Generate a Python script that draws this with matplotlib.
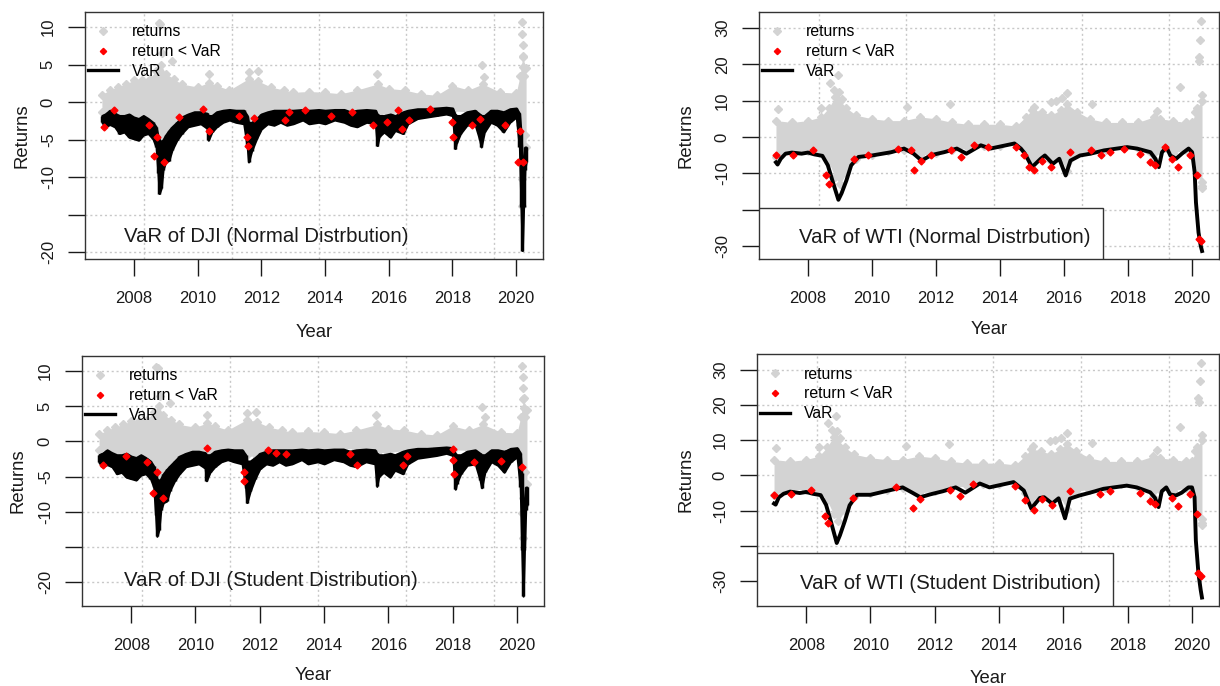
import matplotlib.pyplot as plt
from matplotlib.lines import Line2D
from matplotlib.patches import Rectangle

plt.rcParams['font.family'] = ['Liberation Sans', 'DejaVu Sans']

# ---- DJI daily returns (%): envelope of the grey cloud, decimal years
dji_t = [2007.0, 2007.25, 2007.5, 2007.75, 2008.0, 2008.25, 2008.5, 2008.7, 2008.85, 2009.0,
         2009.25, 2009.5, 2010.0, 2010.35, 2010.6, 2011.0, 2011.6, 2011.9, 2012.3, 2012.7,
         2013.0, 2013.5, 2014.0, 2014.5, 2015.0, 2015.65, 2016.0, 2016.5, 2017.0, 2017.5,
         2018.0, 2018.5, 2018.95, 2019.5, 2020.0, 2020.12, 2020.2, 2020.31]
dji_hi = [1.0, 1.6, 2.0, 2.4, 2.9, 2.9, 3.1, 4.2, 5.0, 3.8,
          3.1, 2.4, 2.0, 2.6, 2.2, 1.6, 3.1, 2.8, 2.0, 1.6,
          1.3, 1.4, 1.3, 1.1, 1.6, 2.4, 1.8, 1.6, 1.1, 0.9,
          2.2, 1.6, 2.4, 1.3, 1.2, 3.5, 6.0, 4.5]
dji_lo = [-1.3, -1.1, -1.5, -1.8, -2.0, -2.2, -2.2, -3.5, -5.5, -4.5,
          -3.3, -2.0, -1.3, -1.5, -1.3, -1.0, -2.0, -2.2, -1.3, -1.1,
          -1.1, -1.1, -1.1, -1.0, -1.1, -1.6, -1.6, -1.3, -0.9, -0.8,
          -1.2, -1.3, -1.8, -1.1, -0.8, -3.0, -8.0, -6.0]
dji_out_t = [2008.78, 2008.83, 2008.9, 2009.2, 2010.35, 2011.6, 2011.89, 2015.63, 2018.92, 2019.0,
             2020.17, 2020.19, 2020.2, 2020.21, 2020.22, 2020.24, 2020.17, 2020.18, 2020.26]
dji_out_v = [10.6, 10.4, 6.5, 5.5, 3.8, 4.0, 4.2, 3.8, 4.9, 3.4,
             10.7, 9.1, 7.6, 6.2, 4.7, 3.5, -10.2, -13.8, -4.4]

# ---- DJI VaR: upper / lower edge of the black band
dji_var_t = [2007.00, 2007.10, 2007.25, 2007.40, 2007.55, 2007.70, 2007.85, 2008.00, 2008.15, 2008.30,
             2008.45, 2008.60, 2008.70, 2008.76, 2008.80, 2008.86, 2008.92, 2009.00, 2009.10, 2009.20,
             2009.35, 2009.50, 2009.70, 2009.90, 2010.10, 2010.30, 2010.34, 2010.45, 2010.60, 2010.80,
             2011.00, 2011.20, 2011.45, 2011.56, 2011.60, 2011.70, 2011.85, 2012.00, 2012.20, 2012.40,
             2012.60, 2012.80, 2013.00, 2013.30, 2013.50, 2013.80, 2014.00, 2014.30, 2014.60, 2014.80,
             2015.00, 2015.30, 2015.58, 2015.64, 2015.70, 2015.85, 2016.05, 2016.20, 2016.45, 2016.60,
             2016.90, 2017.20, 2017.50, 2017.80, 2018.00, 2018.08, 2018.12, 2018.25, 2018.45, 2018.70,
             2018.85, 2018.90, 2019.00, 2019.20, 2019.40, 2019.60, 2019.80, 2020.00, 2020.10, 2020.15,
             2020.19, 2020.23, 2020.27, 2020.31]
dji_n_top = [-1.8, -1.6, -1.1, -1.5, -1.8, -1.8, -1.6, -2.0, -2.2, -1.8,
             -2.2, -2.7, -3.3, -4.5, -5.0, -5.3, -5.0, -4.4, -3.8, -3.3,
             -2.7, -2.0, -1.6, -1.3, -1.3, -1.5, -1.8, -1.8, -1.3, -1.1,
             -1.0, -1.1, -1.1, -1.8, -2.7, -2.7, -2.2, -1.6, -1.3, -1.1,
             -1.1, -1.1, -1.1, -1.0, -1.1, -1.0, -1.1, -1.0, -1.0, -1.3,
             -1.1, -1.0, -1.1, -1.6, -1.8, -1.8, -1.6, -1.8, -1.3, -1.1,
             -0.9, -0.9, -0.8, -0.7, -0.8, -1.6, -1.8, -1.8, -1.3, -1.1,
             -1.6, -1.8, -1.8, -1.1, -1.1, -1.3, -0.9, -0.8, -1.5, -4.0,
             -8.0, -8.0, -6.0, -6.0]
dji_n_bot = [-2.7, -3.3, -3.0, -3.3, -4.2, -4.0, -4.7, -4.9, -5.1, -4.4,
             -4.2, -4.9, -6.0, -9.5, -12.2, -11.5, -9.0, -8.0, -7.8, -6.4,
             -5.1, -4.2, -3.3, -3.1, -2.9, -3.5, -5.1, -4.0, -3.3, -2.7,
             -2.4, -2.7, -2.9, -6.0, -8.0, -6.5, -4.9, -3.6, -2.9, -3.1,
             -2.7, -3.1, -2.9, -2.4, -2.9, -2.7, -2.9, -2.4, -2.7, -3.1,
             -3.3, -2.7, -2.9, -5.8, -4.6, -4.0, -4.7, -3.8, -4.2, -2.9,
             -2.2, -2.0, -1.8, -1.6, -1.8, -6.2, -5.5, -4.2, -3.1, -2.9,
             -5.0, -6.0, -4.0, -2.7, -3.1, -4.0, -2.7, -2.0, -6.0, -14.0,
             -19.8, -14.0, -9.0, -8.0]
dji_s_top = [-1.9, -1.7, -1.2, -1.6, -1.9, -1.9, -1.7, -2.1, -2.3, -1.9,
             -2.3, -2.8, -3.5, -4.8, -5.3, -5.6, -5.3, -4.6, -4.0, -3.5,
             -2.8, -2.1, -1.7, -1.4, -1.4, -1.6, -1.9, -1.9, -1.4, -1.2,
             -1.1, -1.2, -1.2, -1.9, -2.8, -2.8, -2.3, -1.7, -1.4, -1.2,
             -1.2, -1.2, -1.2, -1.1, -1.2, -1.1, -1.2, -1.1, -1.1, -1.4,
             -1.2, -1.1, -1.2, -1.7, -1.9, -1.9, -1.7, -1.9, -1.4, -1.2,
             -1.0, -1.0, -0.9, -0.8, -0.9, -1.7, -1.9, -1.9, -1.4, -1.2,
             -1.7, -1.9, -1.9, -1.2, -1.2, -1.4, -1.0, -0.9, -1.6, -4.5,
             -9.0, -9.0, -6.5, -6.5]
dji_s_bot = [-3.0, -3.6, -3.3, -3.6, -4.6, -4.4, -5.1, -5.3, -5.5, -4.8,
             -4.6, -5.3, -6.5, -10.5, -13.5, -12.6, -9.8, -8.7, -8.5, -7.0,
             -5.6, -4.6, -3.6, -3.4, -3.2, -3.8, -5.6, -4.4, -3.6, -2.9,
             -2.6, -2.9, -3.2, -6.6, -8.7, -7.1, -5.3, -3.9, -3.2, -3.4,
             -2.9, -3.4, -3.2, -2.6, -3.2, -2.9, -3.2, -2.6, -2.9, -3.4,
             -3.6, -2.9, -3.2, -6.4, -5.0, -4.4, -5.1, -4.1, -4.6, -3.2,
             -2.4, -2.2, -2.0, -1.7, -2.0, -6.8, -6.0, -4.6, -3.4, -3.2,
             -5.5, -6.6, -4.4, -2.9, -3.4, -4.4, -2.9, -2.2, -6.5, -15.5,
             -22.0, -15.5, -9.8, -9.0]

# returns below VaR (red)
dji_n_red_t = [2007.06, 2007.37, 2008.47, 2008.65, 2008.73, 2008.96, 2009.41, 2010.16, 2010.35, 2011.3,
               2011.55, 2011.58, 2011.76, 2012.75, 2012.86, 2013.38, 2014.2, 2014.85, 2015.52, 2015.94,
               2016.3, 2016.41, 2016.62, 2017.3, 2017.98, 2018.03, 2018.6, 2018.87, 2019.65, 2020.07,
               2020.12, 2020.22]
dji_n_red_v = [-3.3, -1.0, -3.1, -7.2, -4.7, -8.0, -2.0, -0.9, -3.8, -1.8,
               -4.7, -5.8, -2.1, -2.4, -1.3, -1.1, -1.8, -1.3, -3.1, -2.7,
               -1.0, -3.6, -2.4, -0.9, -2.7, -4.7, -3.1, -2.2, -3.1, -8.0,
               -3.8, -8.0]
dji_s_red_t = [2007.13, 2007.85, 2008.5, 2008.68, 2008.8, 2008.99, 2010.35, 2011.5, 2011.52, 2012.24,
               2012.5, 2012.8, 2014.8, 2015.03, 2016.45, 2016.57, 2018.0, 2018.02, 2018.03, 2018.65,
               2019.5, 2020.17]
dji_s_red_v = [-3.4, -2.1, -3.0, -7.3, -4.4, -8.0, -0.9, -4.4, -5.7, -1.3,
               -1.6, -1.8, -1.8, -3.3, -3.4, -2.1, -1.1, -2.6, -4.7, -3.0,
               -2.8, -3.6]

# ---- WTI daily returns (%)
wti_t = [2007.0, 2007.5, 2008.0, 2008.4, 2008.65, 2008.85, 2009.0, 2009.2, 2009.5, 2010.0,
         2010.5, 2011.0, 2011.5, 2012.0, 2012.5, 2013.0, 2013.5, 2014.0, 2014.5, 2014.8,
         2015.0, 2015.3, 2015.6, 2015.9, 2016.1, 2016.4, 2016.8, 2017.3, 2017.8, 2018.3,
         2018.8, 2019.0, 2019.4, 2019.8, 2020.0, 2020.15, 2020.31]
wti_hi = [4.5, 4.0, 4.5, 5.5, 8.0, 11.0, 10.0, 8.0, 6.0, 5.0,
          4.5, 4.5, 5.5, 5.0, 4.0, 3.5, 3.5, 3.5, 3.0, 5.5,
          7.5, 7.0, 6.0, 7.5, 9.0, 7.0, 5.0, 4.0, 4.0, 4.0,
          5.5, 5.0, 4.5, 4.0, 4.0, 8.0, 10.0]
wti_lo = [-5.5, -4.0, -4.0, -4.5, -7.0, -11.0, -13.0, -10.0, -6.0, -5.0,
          -4.0, -3.5, -5.0, -4.5, -3.5, -3.0, -2.5, -2.5, -2.0, -5.0,
          -7.5, -5.5, -6.5, -6.0, -9.5, -4.5, -4.0, -3.5, -2.5, -3.0,
          -6.0, -4.0, -4.5, -3.5, -4.0, -10.0, -14.0]
wti_out_t = [2007.05, 2008.4, 2008.68, 2008.8, 2008.93, 2008.97, 2009.05, 2011.1, 2012.45, 2015.06,
             2015.58, 2015.75, 2015.94, 2016.1, 2016.88, 2018.9, 2019.63, 2020.1, 2020.2, 2020.22,
             2020.25, 2020.27, 2020.3, 2020.31, 2020.31]
wti_out_v = [7.7, 8.0, 14.8, 13.0, 17.0, 12.5, 10.5, 8.3, 9.0, 8.3,
             9.7, 10.0, 10.6, 12.0, 9.2, 7.1, 13.8, 6.9, 22.0, 21.0,
             26.8, 32.0, 11.5, -12.5, -13.5]

# ---- WTI VaR lines
wti_var_t = [2007.0, 2007.05, 2007.15, 2007.3, 2007.5, 2007.8, 2008.0, 2008.2, 2008.45, 2008.62,
             2008.78, 2008.95, 2009.05, 2009.2, 2009.35, 2009.58, 2010.0, 2010.6, 2011.0, 2011.3,
             2011.55, 2011.85, 2012.25, 2012.65, 2012.95, 2013.4, 2013.7, 2014.45, 2014.65, 2014.77,
             2015.0, 2015.27, 2015.4, 2015.65, 2015.85, 2016.05, 2016.2, 2016.5, 2016.83, 2017.25,
             2017.97, 2018.28, 2018.7, 2018.85, 2018.96, 2019.06, 2019.2, 2019.32, 2019.5, 2019.68,
             2019.89, 2020.0, 2020.08, 2020.12, 2020.2, 2020.27, 2020.31]
wti_n_var = [-7.0, -7.6, -6.0, -4.6, -4.3, -4.6, -4.3, -4.8, -5.2, -7.8,
             -12.5, -17.3, -15.5, -12.0, -7.8, -5.5, -5.1, -4.2, -3.2, -4.6,
             -6.5, -5.0, -4.2, -3.2, -4.6, -2.3, -3.2, -1.8, -3.2, -4.5,
             -8.3, -6.0, -5.1, -7.4, -6.0, -10.6, -6.5, -5.1, -4.6, -3.7,
             -2.8, -3.2, -4.2, -6.0, -8.3, -4.2, -2.8, -5.1, -6.0, -4.6,
             -3.2, -4.2, -9.7, -18.0, -26.3, -30.0, -31.4]
wti_s_var = [-8.0, -8.3, -6.2, -5.2, -4.6, -5.0, -4.7, -5.2, -5.6, -8.4,
             -13.5, -19.2, -17.0, -13.0, -8.5, -5.5, -5.5, -4.2, -3.4, -4.9,
             -6.2, -5.4, -4.5, -3.4, -4.9, -2.3, -3.4, -1.9, -3.4, -4.3,
             -9.4, -6.4, -6.2, -8.0, -6.5, -12.2, -6.6, -5.7, -4.9, -3.8,
             -2.9, -3.4, -4.8, -6.4, -9.0, -4.5, -3.4, -5.4, -5.7, -4.9,
             -3.4, -3.4, -6.2, -18.5, -27.8, -32.5, -34.7]

wti_n_red_t = [2007.01, 2007.53, 2008.16, 2008.57, 2008.67, 2009.45, 2009.87, 2010.8, 2011.22, 2011.32,
               2011.53, 2011.84, 2012.47, 2012.78, 2013.19, 2013.61, 2014.49, 2014.75, 2014.91, 2015.06,
               2015.32, 2015.58, 2016.2, 2016.83, 2017.14, 2017.45, 2017.87, 2018.38, 2018.7, 2018.85,
               2019.16, 2019.37, 2019.55, 2019.94, 2020.15, 2020.2, 2020.29]
wti_n_red_v = [-5.1, -5.1, -3.7, -10.6, -12.9, -6.0, -5.1, -3.2, -3.7, -9.2,
               -6.5, -5.1, -3.7, -5.5, -2.3, -2.8, -2.8, -5.1, -8.3, -9.2,
               -6.5, -8.3, -4.2, -3.7, -5.1, -4.2, -3.2, -4.6, -6.9, -7.8,
               -2.8, -6.0, -8.3, -5.1, -10.6, -28.2, -28.6]
wti_s_red_t = [2007.01, 2007.53, 2008.16, 2008.57, 2008.67, 2009.45, 2010.8, 2011.32, 2011.53, 2012.47,
               2012.78, 2013.19, 2014.49, 2014.8, 2015.08, 2015.32, 2015.64, 2016.2, 2017.14, 2017.45,
               2018.38, 2018.7, 2018.85, 2019.37, 2019.55, 2019.94, 2020.15, 2020.2, 2020.29]
wti_s_red_v = [-5.5, -5.3, -4.0, -11.5, -13.5, -6.3, -3.4, -9.2, -6.8, -4.0,
               -5.8, -2.4, -3.0, -7.1, -9.9, -6.8, -8.5, -4.5, -5.4, -4.5,
               -4.9, -7.3, -8.2, -6.3, -8.7, -5.4, -11.0, -27.8, -28.5]

year_ticks = [2008, 2010, 2012, 2014, 2016, 2018, 2020]
# grid() on the date axis: every 1000 days since 1970
grid_years = [2008.33, 2011.07, 2013.81, 2016.55, 2019.29]

GREY = '#d3d3d3'
INK = '#1a1a1a'
W, H = 1220, 686

fig = plt.figure(figsize=(W / 100, H / 100), dpi=100)


def px_axes(left, top, right, bottom):
    return fig.add_axes([left / W, 1 - bottom / H, (right - left) / W, (bottom - top) / H])


def draw_panel(ax, band, outl, var, red, ylim, yticks, ylabels, title, boxed):
    for g in grid_years:
        ax.axvline(g, color='#c8c8c8', lw=1, ls=(0, (1.5, 2)), zorder=0)
    for y in yticks:
        ax.axhline(y, color='#c8c8c8', lw=1, ls=(0, (1.5, 2)), zorder=0)

    t, hi, lo = band
    ax.fill_between(t, lo, hi, color=GREY, lw=0, zorder=1)
    ax.plot(t, hi, 'D', color=GREY, ms=4.3, zorder=1)
    ax.plot(t, lo, 'D', color=GREY, ms=4.3, zorder=1)
    ax.plot(outl[0], outl[1], 'D', color=GREY, ms=4.3, zorder=1)

    if len(var) == 3:
        # daily VaR wiggles so fast that it reads as a black band
        ax.fill_between(var[0], var[2], var[1], color='k', lw=1.5, zorder=2)
        ax.vlines(var[0], var[2], var[1], color='k', lw=2.5, zorder=2)
    else:
        ax.plot(var[0], var[1], color='k', lw=2.8, zorder=2)
    ax.plot(red[0], red[1], 'D', color='#ff0000', ms=3.5, zorder=3)

    ax.set_xlim(2006.47, 2020.84)
    ax.set_ylim(*ylim)
    ax.set_xticks(year_ticks)
    ax.set_xticklabels([str(y) for y in year_ticks])
    ax.set_yticks(yticks)
    ax.set_yticklabels(ylabels, rotation=90, va='center')
    ax.tick_params(axis='both', direction='out', length=12, width=1, color=INK,
                   labelsize=12, labelcolor=INK)
    ax.tick_params(axis='x', pad=11)
    ax.tick_params(axis='y', pad=9)
    for s in ax.spines.values():
        s.set_color('#333333')
        s.set_linewidth(1)

    ax.set_xlabel('Year', fontsize=13.3, color=INK)
    ax.set_ylabel('Returns', fontsize=13.3, color=INK)
    ax.xaxis.label.set_va('center')
    ax.yaxis.label.set_va('center')

    handles = [Line2D([], [], ls='none', marker='D', color=GREY, ms=3.6),
               Line2D([], [], ls='none', marker='D', color='#ff0000', ms=3.2),
               Line2D([], [], color='k', lw=2.4)]
    ax.legend(handles, ['returns', 'return < VaR', 'VaR'], loc='upper left',
              bbox_to_anchor=(0.007, 0.95), frameon=False, fontsize=11.3,
              borderpad=0, borderaxespad=0, handlelength=1.9, handletextpad=0.9,
              labelspacing=0.3)

    if boxed:
        ax.add_patch(Rectangle((0, 0), boxed[0], boxed[1], transform=ax.transAxes,
                               facecolor='white', edgecolor='#333333', lw=1, zorder=5))
    ax.text(title[1], title[2], title[0], transform=ax.transAxes, ha='center',
            va='center', fontsize=14.7, color=INK, zorder=6)
    return ax


dji_labels = ['-20', '', '-10', '-5', '0', '5', '10']
dji_ticks = [-20, -15, -10, -5, 0, 5, 10]
wti_ticks = [-30, -20, -10, 0, 10, 20, 30]
wti_labels = ['-30', '', '-10', '0', '10', '20', '30']

ax1 = px_axes(85, 12, 543, 259)
draw_panel(ax1, (dji_t, dji_hi, dji_lo), (dji_out_t, dji_out_v),
           (dji_var_t, dji_n_top, dji_n_bot), (dji_n_red_t, dji_n_red_v),
           (-20.93, 12.0), dji_ticks, dji_labels,
           ('VaR of DJI (Normal Distrbution)', 0.395, 0.093), None)
ax1.xaxis.set_label_coords(0.5, -0.296)
ax1.yaxis.set_label_coords(-0.138, 0.5)

ax2 = px_axes(759, 12, 1219, 259)
draw_panel(ax2, (wti_t, wti_hi, wti_lo), (wti_out_t, wti_out_v),
           (wti_var_t, wti_n_var), (wti_n_red_t, wti_n_red_v),
           (-33.6, 34.4), wti_ticks, wti_labels,
           ('VaR of WTI (Normal Distrbution)', 0.404, 0.089), (0.748, 0.206))
ax2.xaxis.set_label_coords(0.5, -0.287)
ax2.yaxis.set_label_coords(-0.159, 0.5)

ax3 = px_axes(82, 356, 544, 606)
draw_panel(ax3, (dji_t, dji_hi, dji_lo), (dji_out_t, dji_out_v),
           (dji_var_t, dji_s_top, dji_s_bot), (dji_s_red_t, dji_s_red_v),
           (-23.4, 12.13), dji_ticks, dji_labels,
           ('VaR of DJI (Student Distribution)', 0.409, 0.1), None)
ax3.xaxis.set_label_coords(0.5, -0.276)
ax3.yaxis.set_label_coords(-0.139, 0.5)

ax4 = px_axes(757, 354, 1219, 606)
draw_panel(ax4, (wti_t, wti_hi, wti_lo), (wti_out_t, wti_out_v),
           (wti_var_t, wti_s_var), (wti_s_red_t, wti_s_red_v),
           (-37.1, 34.5), wti_ticks, wti_labels,
           ('VaR of WTI (Student Distribution)', 0.418, 0.091), (0.771, 0.21))
ax4.xaxis.set_label_coords(0.5, -0.286)
ax4.yaxis.set_label_coords(-0.154, 0.5)

fig.savefig('out.png', dpi=100)
